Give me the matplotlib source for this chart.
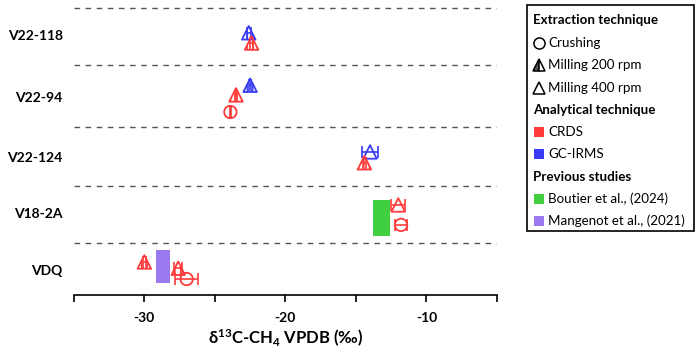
import matplotlib
matplotlib.use("Agg")
import matplotlib.pyplot as plt
from matplotlib.lines import Line2D
from matplotlib.patches import Rectangle

plt.rcParams['font.family'] = ['Lato', 'DejaVu Sans']
plt.rcParams['mathtext.fontset'] = 'custom'
plt.rcParams['mathtext.rm'] = 'Lato:bold'
plt.rcParams['mathtext.bf'] = 'Lato:bold'
plt.rcParams['mathtext.it'] = 'Lato:bold'
plt.rcParams['mathtext.default'] = 'rm'

RED = '#ff3b3b'
BLUE = '#3a3af5'
GREEN = '#3fcf3f'
PURPLE = '#9b7af0'

# categories (top to bottom) and their vertical positions
categories = ['V22-118', 'V22-94', 'V22-124', 'V18-2A', 'VDQ']
cat_y = [4.56, 3.47, 2.42, 1.44, 0.44]
separators = [0.91, 1.91, 2.95, 4.04, 5.04]

# measurements: x (delta13C), y, xerr, method, extraction
meas_x = [-22.6, -22.4, -22.5, -23.5, -23.9, -14.0, -14.4, -12.0, -11.8, -30.0, -27.6, -27.0]
meas_y = [4.60, 4.42, 3.68, 3.51, 3.21, 2.51, 2.32, 1.58, 1.23, 0.58, 0.47, 0.28]
meas_xerr = [0.15, 0.1, 0.05, 0.1, 0.02, 0.55, 0.1, 0.5, 0.45, 0.1, 0.3, 0.8]
meas_tech = ['GC-IRMS', 'CRDS', 'GC-IRMS', 'CRDS', 'CRDS', 'GC-IRMS', 'CRDS', 'CRDS', 'CRDS', 'CRDS', 'CRDS', 'CRDS']
meas_extr = ['M200', 'M200', 'M200', 'M200', 'Crush', 'M400', 'M200', 'M400', 'Crush', 'M200', 'M200', 'Crush']

# previous studies ranges: (xmin, xmax, ymin, ymax)
boutier = [-13.8, -12.6, 1.04, 1.67]
mangenot = [-29.2, -28.2, 0.21, 0.79]

fig = plt.figure(figsize=(6.99, 3.55), dpi=100)
W, H = 699, 355
ax = fig.add_axes([73.8 / W, 1 - 295 / H, (497 - 73.8) / W, 290.7 / H])
ax.set_xlim(-35, -5)
ax.set_ylim(0, 5.1)

for s in separators:
    ax.axhline(s, color='#555555', lw=1.0, ls=(0, (4, 4)), zorder=1)

# previous studies
ax.add_patch(Rectangle((boutier[0], boutier[2]), boutier[1] - boutier[0], boutier[3] - boutier[2],
                       facecolor=GREEN, edgecolor='none', zorder=2))
ax.add_patch(Rectangle((mangenot[0], mangenot[2]), mangenot[1] - mangenot[0], mangenot[3] - mangenot[2],
                       facecolor=PURPLE, edgecolor='none', zorder=2))

col = {'CRDS': RED, 'GC-IRMS': BLUE}
mk = {'Crush': 'o', 'M200': '^', 'M400': '^'}
for x, y, e, t, m in zip(meas_x, meas_y, meas_xerr, meas_tech, meas_extr):
    c = col[t]
    ax.errorbar(x, y, xerr=e, fmt='none', ecolor=c, elinewidth=1.2, capsize=4, capthick=1.2, zorder=3)
    ax.scatter([x], [y], marker=mk[m], s=95 if m != 'Crush' else 80, facecolors='none',
               edgecolors=c, linewidths=1.3, hatch='|||' if m == 'M200' else None, zorder=4)

ax.set_yticks(cat_y)
ax.set_yticklabels(categories, fontsize=10, fontweight='bold')
ax.tick_params(axis='y', length=0, pad=8)
ax.set_xticks([-30, -20, -10])
ax.set_xticklabels(['-30', '-20', '-10'], fontsize=10, fontweight='bold')
ax.set_xticks([-35, -25, -15, -5], minor=True)
ax.tick_params(axis='x', which='both', length=5, width=1.2, direction='out', pad=7)
for sp in ['left', 'right', 'top']:
    ax.spines[sp].set_visible(False)
ax.spines['bottom'].set_linewidth(1.2)
ax.set_xlabel('δ$^{13}$C-CH$_{4}$ VPDB (‰)', fontsize=12, fontweight='bold', labelpad=3)

# legend drawn manually in figure coordinates
def fx(px):
    return px / W

def fy(py):
    return 1 - py / H

fig.patches.append(Rectangle((fx(527), fy(231)), fx(694) - fx(527), fy(5) - fy(231),
                             transform=fig.transFigure, facecolor='white', edgecolor='black',
                             lw=1.2, zorder=5))
rows = [20, 43, 65, 88, 110, 132, 154, 177, 199, 221]
entries = [
    ('Extraction technique', None),
    ('Crushing', 'crush'),
    ('Milling 200 rpm', 'm200'),
    ('Milling 400 rpm', 'm400'),
    ('Analytical technique', None),
    ('CRDS', 'crds'),
    ('GC-IRMS', 'gc'),
    ('Previous studies', None),
    ('Boutier et al., (2024)', 'boutier'),
    ('Mangenot et al., (2021)', 'mangenot'),
]
for py, (label, kind) in zip(rows, entries):
    if kind is None:
        fig.text(fx(533), fy(py), label, fontsize=9.6, fontweight='bold', va='center', ha='left', zorder=6)
        continue
    fig.text(fx(548), fy(py), label, fontsize=9.6, va='center', ha='left', zorder=6)
    mx = fx(539)
    my = fy(py)
    if kind == 'crush':
        fig.add_artist(Line2D([mx], [my], marker='o', ms=8, mfc='none', mec='black', mew=1.1,
                              transform=fig.transFigure, zorder=6))
    elif kind == 'm200':
        fig.add_artist(Line2D([mx], [my], marker='^', ms=8, fillstyle='left', mfc='#555555',
                              mfcalt='white', mec='black', mew=1.1, transform=fig.transFigure, zorder=6))
    elif kind == 'm400':
        fig.add_artist(Line2D([mx], [my], marker='^', ms=8, mfc='none', mec='black', mew=1.1,
                              transform=fig.transFigure, zorder=6))
    else:
        c = {'crds': RED, 'gc': BLUE, 'boutier': GREEN, 'mangenot': PURPLE}[kind]
        fig.patches.append(Rectangle((fx(534), fy(py + 5)), fx(10), 10 / H,
                                     transform=fig.transFigure, facecolor=c, edgecolor='none', zorder=6))

fig.savefig('out.png', dpi=100)
